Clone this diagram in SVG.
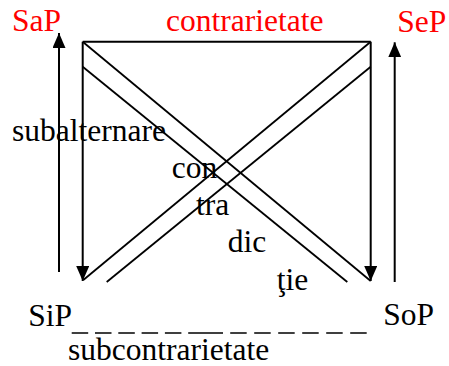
<svg xmlns="http://www.w3.org/2000/svg" width="449" height="366" viewBox="0 0 449 366">
<style>
text{font-family:"Liberation Serif","Times New Roman",serif;font-size:31.5px;fill:#000}
.red{fill:#ff0000}
.ln{stroke:#000;stroke-width:2;fill:none}
.dg{stroke:#000;stroke-width:1.8;fill:none}
.ds{stroke:#000;stroke-width:1.6;fill:none;stroke-dasharray:16.5 6.8 16.5 6.8 16.5 6.8 16.5 6.8 16.5 6.8 34.8 7.2 16.5 7.5 16.5 7.5 16.5 7.5 16.5 7.5 16.5 7.5 16.5 20}
</style>
<defs>
<marker id="ah" markerUnits="userSpaceOnUse" markerWidth="15" markerHeight="13" refX="15" refY="6.5" orient="auto">
<path d="M0,0 L15,6.5 L0,13 z" fill="#000"/>
</marker>
</defs>
<rect width="449" height="366" fill="#fff"/>
<g id="connectors">
<line class="ln" x1="59" y1="272" x2="59" y2="33" marker-end="url(#ah)"/>
<line class="ln" x1="394.7" y1="282" x2="394.7" y2="42.3" marker-end="url(#ah)"/>
<line class="ln" x1="82.7" y1="41.7" x2="82.7" y2="281" marker-end="url(#ah)"/>
<line class="ln" x1="370.7" y1="41.7" x2="370.7" y2="281" marker-end="url(#ah)"/>
<line class="ln" x1="82.7" y1="41.7" x2="370.7" y2="41.7"/>
<line class="dg" x1="82.7" y1="41.7" x2="370.7" y2="281"/>
<line class="dg" x1="82.7" y1="66.7" x2="347.3" y2="282"/>
<line class="dg" x1="370.7" y1="41.7" x2="83.3" y2="280"/>
<line class="dg" x1="370.7" y1="66.7" x2="106.7" y2="282"/>
<line class="ds" x1="71.7" y1="333" x2="366.7" y2="333"/>
<text class="red" x="166" y="31">contrarietate</text>
<text x="12" y="141">subalternare</text>
<text x="171.7" y="178.3">con</text>
<text x="196" y="215">tra</text>
<text x="227.7" y="251.7">dic</text>
<text x="276.7" y="290">ţie</text>
<text x="68" y="359.5">subcontrarietate</text>
</g>
<g id="node-SaP"><text class="red" x="12" y="31">SaP</text></g>
<g id="node-SeP"><text class="red" x="397.3" y="31.5">SeP</text></g>
<g id="node-SiP"><text x="28.3" y="326">SiP</text></g>
<g id="node-SoP"><text x="383.3" y="325">SoP</text></g>
</svg>
